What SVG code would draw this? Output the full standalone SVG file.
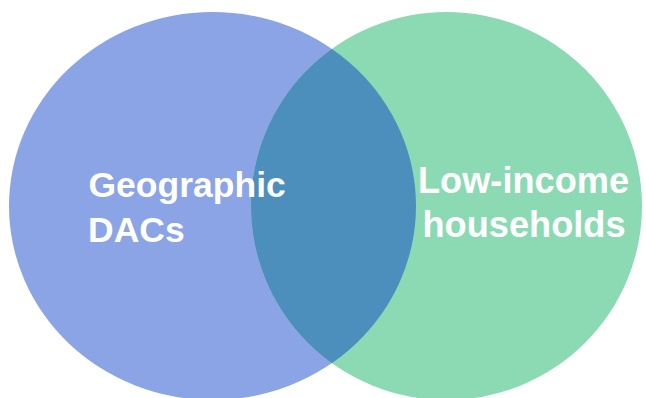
<svg xmlns="http://www.w3.org/2000/svg" width="646" height="398" viewBox="0 0 646 398">
<style>
.lbl{font-family:"Liberation Sans",Arial,sans-serif;font-weight:bold;fill:#ffffff}
.l{font-size:35.5px}
.r{font-size:36.2px}
</style>
<defs>
<clipPath id="clipR"><ellipse cx="446.5" cy="206" rx="195.5" ry="194"/></clipPath>
</defs>
<rect width="646" height="398" fill="#ffffff"/>
<g id="geographic-dacs">
<ellipse cx="212.5" cy="206" rx="203.5" ry="194" fill="#8BA4E6"/>
</g>
<g id="low-income-households">
<ellipse cx="446.5" cy="206" rx="195.5" ry="194" fill="#8CDAB3"/>
</g>
<g id="overlap">
<ellipse cx="212.5" cy="206" rx="203.5" ry="194" fill="#4C8FBC" clip-path="url(#clipR)"/>
</g>
<g id="labels">
<text class="lbl l" x="88.5" y="196.5">Geographic</text>
<text class="lbl l" x="88" y="242">DACs</text>
<text class="lbl r" x="418" y="193">Low-income</text>
<text class="lbl r" x="422.5" y="236.5">households</text>
</g>
<g id="connectors"/>
</svg>
